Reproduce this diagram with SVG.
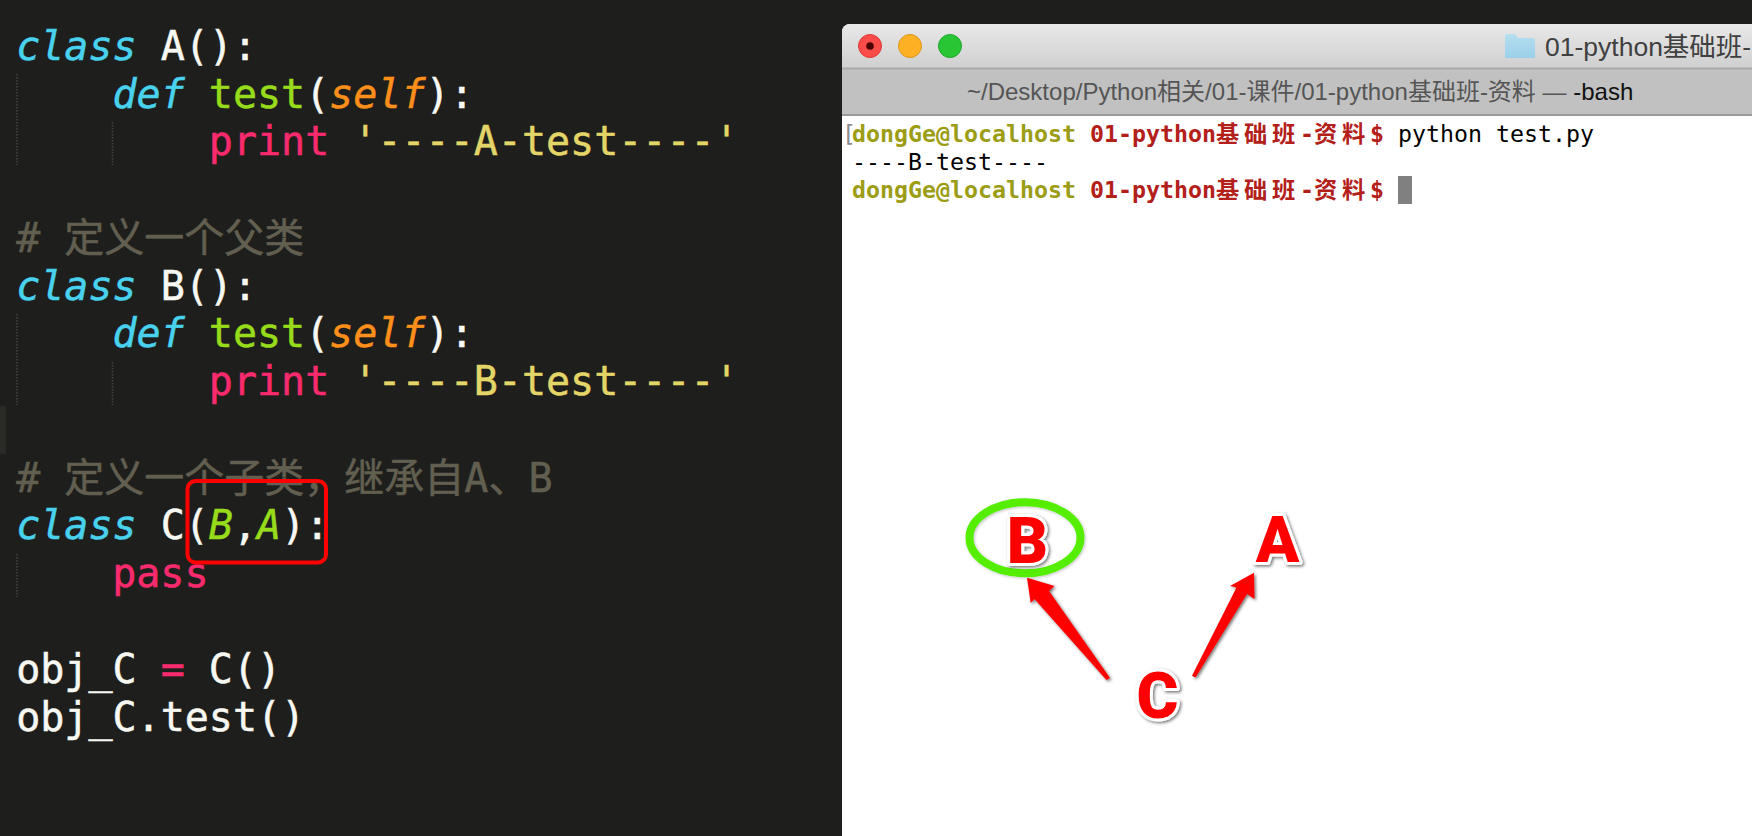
<svg xmlns="http://www.w3.org/2000/svg" width="1752" height="836" viewBox="0 0 1752 836">
<style>
.code{font-family:"DejaVu Sans Mono","Liberation Mono",monospace;font-size:40px;white-space:pre;fill:#f8f8f2;stroke:#f8f8f2;stroke-width:.5}
.kw{fill:#49d2ee;stroke:#49d2ee;font-style:italic}
.fn{fill:#97dc1b;stroke:#97dc1b}
.par{fill:#fd8f1a;stroke:#fd8f1a;font-style:italic}
.inh{fill:#97dc1b;stroke:#97dc1b;font-style:italic}
.red{fill:#f92a6d;stroke:#f92a6d}
.str{fill:#e3d568;stroke:#e3d568}
.cm{fill:#625f50;stroke:#625f50;font-family:"DejaVu Sans Mono","Noto Sans CJK SC",monospace}
.guide{stroke:#46463f;stroke-width:1.5;stroke-dasharray:1.5 1.5;fill:none}
.term{font-family:"DejaVu Sans Mono","Noto Sans CJK SC",monospace;font-size:23.25px;white-space:pre;fill:#000}
.ol{fill:#9c9d14;font-weight:700}
.rd{fill:#b3201a;font-weight:700}
.br{fill:#8c8c8c}
.tt{font-family:"Liberation Sans","Noto Sans CJK SC",sans-serif}
.big{font-family:"Roboto","Liberation Sans",sans-serif;font-weight:900;font-size:64px;fill:#f00;stroke:#fff;stroke-width:6;paint-order:stroke;stroke-linejoin:round;filter:url(#sh)}
.arrow{fill:#f00;filter:url(#sh)}
</style>
<defs>
<linearGradient id="tb" x1="0" y1="0" x2="0" y2="1"><stop offset="0" stop-color="#e8e8e8"/><stop offset="1" stop-color="#cfcfcf"/></linearGradient>
<linearGradient id="fo" x1="0" y1="0" x2="0" y2="1"><stop offset="0" stop-color="#b6deef"/><stop offset="1" stop-color="#9bd0ea"/></linearGradient>
<filter id="sh" x="-30%" y="-30%" width="160%" height="160%"><feDropShadow dx="1.5" dy="1.5" stdDeviation="1.5" flood-color="#000" flood-opacity=".55"/></filter>
<filter id="shl" x="-30%" y="-30%" width="160%" height="160%"><feDropShadow dx="1" dy="1" stdDeviation="1.5" flood-color="#000" flood-opacity=".25"/></filter>
</defs>
<rect width="1752" height="836" fill="#1e1f1c"/>
<rect x="0" y="406" width="6" height="48" fill="#2a2b27"/>
<g id="editor">
<path class="guide" d="M17 74V165M112.500 122V165M17 314V405M112.500 362V405M17 554V597"/>
<text class="code" x="16.200" y="60"><tspan class="kw">class</tspan> A():</text>
<text class="code" x="16.200" y="107.500">    <tspan class="kw">def</tspan> <tspan class="fn">test</tspan>(<tspan class="par">self</tspan>):</text>
<text class="code" x="16.200" y="155">        <tspan class="red">print</tspan> <tspan class="str">'----A-test----'</tspan></text>
<text class="code cm" x="16.200" y="252"># 定义一个父类</text>
<text class="code" x="16.200" y="299.500"><tspan class="kw">class</tspan> B():</text>
<text class="code" x="16.200" y="347">    <tspan class="kw">def</tspan> <tspan class="fn">test</tspan>(<tspan class="par">self</tspan>):</text>
<text class="code" x="16.200" y="395">        <tspan class="red">print</tspan> <tspan class="str">'----B-test----'</tspan></text>
<text class="code cm" x="16.200" y="492"># 定义一个子类，继承自A、B</text>
<text class="code" x="16.200" y="539"><tspan class="kw">class</tspan> C(<tspan class="inh">B</tspan>,<tspan class="inh">A</tspan>):</text>
<text class="code red" x="112.200" y="587">pass</text>
<text class="code" x="16.200" y="683">obj_C <tspan class="red">=</tspan> C()</text>
<text class="code" x="16.200" y="731">obj_C.test()</text>
<rect id="highlight" x="187.500" y="481" width="138.500" height="81.500" rx="8" fill="none" stroke="#f00" stroke-width="4"/>
</g>
<g id="terminal">
<path d="M842 836V32a8 8 0 0 1 8-8H1752V836Z" fill="#fff"/>
<path d="M842 69V32a8 8 0 0 1 8-8H1752V69Z" fill="url(#tb)"/>
<rect x="842" y="68" width="910" height="47" fill="#c1c1c1"/>
<rect x="842" y="67.500" width="910" height="2" fill="#a9a9a9"/>
<rect x="842" y="114" width="910" height="2" fill="#9a9a9a"/>
<circle cx="870" cy="46" r="11.500" fill="#fc4c4a" stroke="#dd3a38"/>
<circle cx="870" cy="46" r="3.800" fill="#4d0000"/>
<circle cx="910" cy="46" r="11.500" fill="#fdb024" stroke="#df961b"/>
<circle cx="950" cy="46" r="11.500" fill="#28c634" stroke="#1fa62a"/>
<path d="M1505 36a2 2 0 0 1 2-2h8l3 4h15a2 2 0 0 1 2 2v17a1 1 0 0 1-1 1h-28a1 1 0 0 1-1-1Z" fill="url(#fo)"/>
<text class="tt" x="1545" y="56" font-size="26.500" fill="#404040">01-python基础班-</text>
<text class="tt" x="967" y="100" font-size="24" fill="#555">~/Desktop/Python相关/01-课件/01-python基础班-资料 — <tspan fill="#111">-bash</tspan></text>
<text class="term" y="141.500"><tspan class="br" x="842">[</tspan><tspan class="ol" x="852">dongGe@localhost</tspan><tspan class="rd" x="1090">01-python</tspan><tspan class="rd" x="1216">基</tspan><tspan class="rd" x="1244">础</tspan><tspan class="rd" x="1272">班</tspan><tspan class="rd" x="1300">-</tspan><tspan class="rd" x="1314">资</tspan><tspan class="rd" x="1342">料</tspan><tspan class="rd" x="1370">$</tspan><tspan x="1398">python test.py</tspan></text>
<text class="term" x="852" y="169.500">----B-test----</text>
<text class="term" y="197.500"><tspan class="ol" x="852">dongGe@localhost</tspan><tspan class="rd" x="1090">01-python</tspan><tspan class="rd" x="1216">基</tspan><tspan class="rd" x="1244">础</tspan><tspan class="rd" x="1272">班</tspan><tspan class="rd" x="1300">-</tspan><tspan class="rd" x="1314">资</tspan><tspan class="rd" x="1342">料</tspan><tspan class="rd" x="1370">$</tspan></text>
<rect x="1398" y="176" width="14" height="28" fill="#808080"/>
</g>
<g id="connectors">
<path class="arrow" d="M1027 577.700 1054.500 586 1049 591 1110 678 1106.500 680 1034.500 599 1030.700 603Z"/>
<path class="arrow" d="M1254 572.700 1254.500 599 1247 594 1195.500 677.500 1192 675.700 1236.500 587.500 1230 586Z"/>
</g>
<g id="node-B">
<ellipse cx="1025" cy="537.700" rx="55.500" ry="35.500" fill="none" stroke="#55ee00" stroke-width="8" filter="url(#shl)"/>
<text class="big" x="1027.500" y="563" text-anchor="middle">B</text>
</g>
<g id="node-A"><text class="big" x="1277.500" y="561.500" text-anchor="middle">A</text></g>
<g id="node-C"><text class="big" x="1157.500" y="717.500" text-anchor="middle">C</text></g>
</svg>
